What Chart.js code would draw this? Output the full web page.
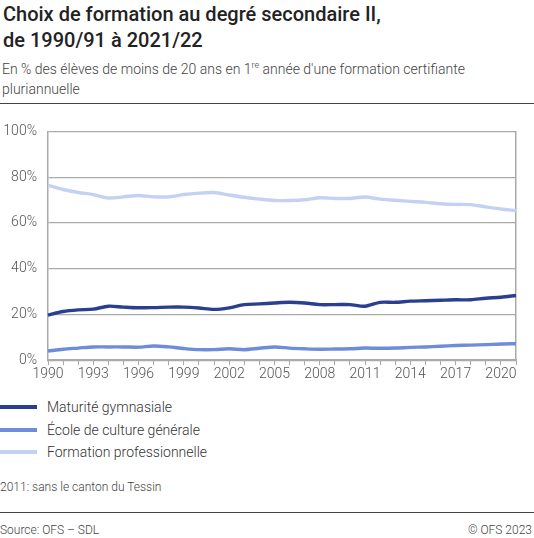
<!DOCTYPE html>
<html lang="fr">
<head>
<meta charset="utf-8">
<script src="https://cdn.jsdelivr.net/npm/chart.js@4"></script>
<style>
  body { margin: 0; width: 534px; height: 538px; background: #fff; font-family: Roboto, "Noto Sans", sans-serif; color: #222; position: relative; overflow: hidden; }
  .title { position: absolute; left: 3px; top: 1px; font-size: 20px; font-weight: 500; line-height: 26px; color: #222; }
  .sub { position: absolute; left: 2px; top: 55px; font-size: 14px; font-weight: 300; line-height: 20px; color: #444; }
  .sub sup { font-size: 9px; }
  .rule { position: absolute; left: 0; width: 534px; height: 1px; background: #444; }
  #wrap { position: absolute; left: 0; top: 112px; width: 534px; height: 272px; }
  #legend { position: absolute; left: 0; top: 396px; }
  .item { height: 22.5px; display: flex; align-items: center; font-size: 14px; font-weight: 300; color: #333; }
  .item span { display: inline-block; width: 37px; height: 4px; margin-right: 10px; }
  .note { position: absolute; left: 0; top: 480px; font-size: 12px; font-weight: 300; color: #444; }
  .src { position: absolute; top: 523px; font-size: 12px; font-weight: 300; color: #444; }
</style>
</head>
<body>
<div class="title">Choix de formation au degré secondaire II,<br>de 1990/91 à 2021/22</div>
<div class="sub">En % des élèves de moins de 20 ans en 1<sup>re</sup> année d'une formation certifiante<br>pluriannuelle</div>
<div class="rule" style="top:103px"></div>
<div id="wrap"><canvas id="myChart"></canvas></div>
<div id="legend"></div>
<div class="note">2011: sans le canton du Tessin</div>
<div class="rule" style="top:512px"></div>
<div class="src" style="left:0">Source: OFS – SDL</div>
<div class="src" style="right:2px">© OFS 2023</div>
<script>
const years = ['1990','1991','1992','1993','1994','1995','1996','1997','1998','1999','2000',
  '2001','2002','2003','2004','2005','2006','2007','2008','2009','2010',
  '2011','2012','2013','2014','2015','2016','2017','2018','2019','2020','2021'];

const maturite = [19.7,21.3,22.0,22.3,23.6,23.2,22.9,23.0,23.2,23.2,22.8,
  22.2,22.9,24.3,24.6,25.0,25.3,25.0,24.3,24.3,24.3,
  23.6,25.3,25.3,25.8,26.0,26.2,26.4,26.4,27.1,27.5,28.3];

const ecoleCulture = [4.0,4.8,5.3,5.8,5.8,5.8,5.7,6.2,5.8,5.1,4.6,
  4.6,5.0,4.6,5.2,5.8,5.3,5.0,4.8,4.9,5.0,
  5.3,5.2,5.3,5.6,5.8,6.1,6.4,6.6,6.8,7.1,7.2];

const formationPro = [76.4,74.6,73.3,72.4,70.9,71.4,72.0,71.4,71.4,72.4,73.0,
  73.3,72.2,71.2,70.4,69.8,69.8,70.1,71.0,70.7,70.7,
  71.3,70.4,69.9,69.4,69.0,68.4,68.1,68.0,67.0,66.1,65.4];

const yTicks = [0, 20, 40, 60, 80, 100];
const seriesNames = ['Maturité gymnasiale', 'École de culture générale', 'Formation professionnelle'];
const seriesColors = ['#2a3f8f', '#6e8cd9', '#c4d1f3'];

Chart.defaults.font.family = 'Roboto, "Noto Sans", sans-serif';
Chart.defaults.font.size = 14;
Chart.defaults.color = '#555';

const series = [maturite, ecoleCulture, formationPro];

var ctx = document.getElementById('myChart').getContext('2d');
var myChart = new Chart(ctx, {
  type: 'line',
  data: {
    labels: years,
    datasets: series.map((d, i) => ({
      label: seriesNames[i],
      data: d,
      borderColor: seriesColors[i],
      backgroundColor: seriesColors[i],
      borderWidth: 3.4,
      pointRadius: 0,
      tension: 0.3,
      fill: false,
      order: 2 - i
    }))
  },
  options: {
    responsive: true,
    maintainAspectRatio: false,
    animation: false,
    layout: { padding: { top: 6, right: 18, left: 0, bottom: 0 } },
    plugins: { legend: { display: false }, tooltip: { enabled: false } },
    scales: {
      x: {
        offset: false,
        grid: { display: true, drawOnChartArea: false, drawTicks: true, tickLength: 5, color: '#aaa' },
        border: { color: '#aaa', width: 1.5 },
        ticks: {
          autoSkip: false,
          maxRotation: 0,
          padding: 1,
          font: { size: 14, weight: 300 },
          callback: function (v, i) { return i % 3 === 0 ? years[i] : ''; }
        }
      },
      y: {
        min: 0,
        max: 100,
        afterBuildTicks: axis => { axis.ticks = yTicks.map(v => ({ value: v })); },
        afterFit: axis => { axis.width = 48; },
        grid: { color: '#aaa', lineWidth: 1.2, drawTicks: false },
        border: { display: true, color: '#aaa', width: 1.5 },
        ticks: { padding: 11, font: { size: 14, weight: 300 }, callback: v => v + '%' }
      },
      y2: {
        position: 'right',
        min: 0,
        max: 100,
        grid: { display: false, drawTicks: false },
        border: { display: true, color: '#aaa', width: 1.5 },
        ticks: { display: false }
      }
    }
  }
});

// legend built from the datasets
const legend = document.getElementById('legend');
myChart.data.datasets.forEach(ds => {
  const row = document.createElement('div');
  row.className = 'item';
  row.innerHTML = '<span style="background:' + ds.borderColor + '"></span>' + ds.label;
  legend.appendChild(row);
});
</script>
</body>
</html>
